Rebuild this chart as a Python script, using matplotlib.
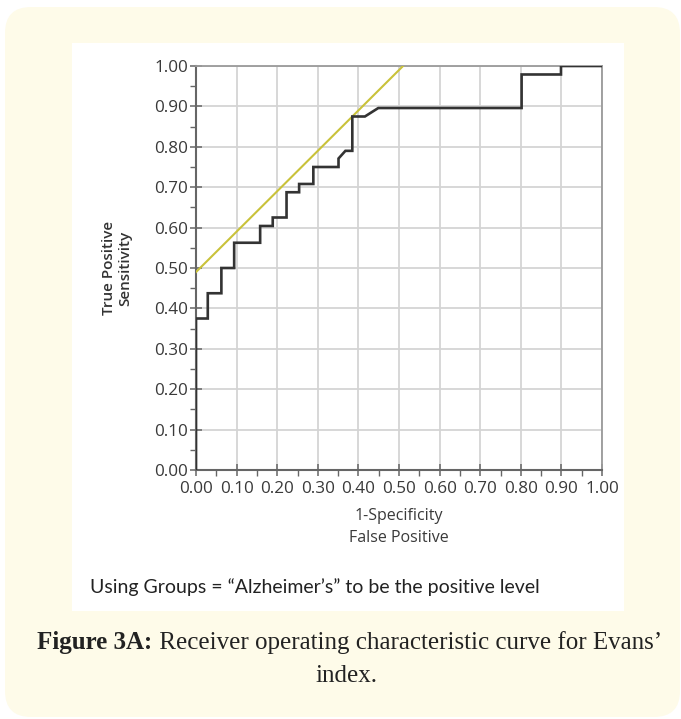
import matplotlib.pyplot as plt
from matplotlib.patches import FancyBboxPatch, Rectangle
from matplotlib.transforms import IdentityTransform
from matplotlib.ticker import MultipleLocator, FormatStrFormatter

plt.rcParams['font.family'] = 'Open Sans'

# ROC curve vertices (1-specificity, sensitivity)
fpr = [0.0, 0.0, 0.029, 0.029, 0.0625, 0.0625, 0.094, 0.094, 0.158, 0.158,
       0.189, 0.189, 0.223, 0.223, 0.254, 0.254, 0.289, 0.289, 0.351, 0.351,
       0.368, 0.385, 0.385, 0.416, 0.449, 0.802, 0.802, 0.899, 0.899, 1.0]
tpr = [0.0, 0.375, 0.375, 0.4375, 0.4375, 0.5, 0.5, 0.5625, 0.5625, 0.604,
       0.604, 0.625, 0.625, 0.6875, 0.6875, 0.708, 0.708, 0.75, 0.75, 0.771,
       0.79, 0.79, 0.875, 0.875, 0.896, 0.896, 0.979, 0.979, 1.0, 1.0]

# tangent line
tan_x = [0.0, 0.51]
tan_y = [0.49, 1.0]

tick_vals = [i / 10 for i in range(11)]

fig = plt.figure(figsize=(6.81, 7.19), dpi=100)
fig.patch.set_facecolor('white')

# cream card and white panel (pixel coords)
card = FancyBboxPatch((5, 2), 675, 710, boxstyle='round,pad=0,rounding_size=26',
                      transform=IdentityTransform(), facecolor='#fefbe9',
                      edgecolor='none', zorder=0)
fig.patches.append(card)
panel = Rectangle((72, 108), 552, 568, transform=IdentityTransform(),
                  facecolor='white', edgecolor='none', zorder=1)
fig.patches.append(panel)

ax = fig.add_axes([196 / 681, 1 - 470 / 719, 406 / 681, 404 / 719])
ax.set_facecolor('white')
ax.set_zorder(2)

ax.plot(tan_x, tan_y, color='#c9c23a', lw=1.5, zorder=3)
ax.plot(fpr, tpr, color='#333333', lw=1.9, zorder=4, solid_joinstyle='miter')

ax.set_xlim(0, 1)
ax.set_ylim(0, 1)
ax.set_xticks(tick_vals)
ax.set_yticks(tick_vals)
ax.xaxis.set_major_formatter(FormatStrFormatter('%.2f'))
ax.yaxis.set_major_formatter(FormatStrFormatter('%.2f'))
ax.xaxis.set_minor_locator(MultipleLocator(0.05))
ax.yaxis.set_minor_locator(MultipleLocator(0.05))
ax.grid(True, which='major', color='#d4d4d4', lw=1.3, zorder=0)
ax.set_axisbelow(True)

ax.tick_params(which='major', direction='inout', length=9, width=1.1,
               color='#666666', pad=1, labelsize=12.3, labelcolor='#3a3a3a')
ax.tick_params(axis='x', which='major', pad=3.5)
ax.tick_params(which='minor', direction='out', length=4, width=1.0,
               color='#666666')

for side in ['left', 'bottom']:
    ax.spines[side].set_color('#666666')
    ax.spines[side].set_linewidth(1.5)
for side in ['top', 'right']:
    ax.spines[side].set_color('#9a9a9a')
    ax.spines[side].set_linewidth(1.3)

ax.set_xlabel('1-Specificity\nFalse Positive', fontsize=11.5,
              color='#3a3a3a', linespacing=1.5)
ax.xaxis.set_label_coords(0.5, -0.093)
ax.set_ylabel('True Positive\nSensitivity', fontsize=11,
              color='#333333', linespacing=1.25, weight='semibold')
ax.yaxis.set_label_coords(-0.157, 0.5)

fig.text(90 / 681, 1 - 587 / 719, 'Using Groups = \u201cAlzheimer\u2019s\u201d to be the positive level',
         family='Lato', size=14, color='#222222', va='center', ha='left')

# caption with bold lead-in, centred
fig.canvas.draw()
r = fig.canvas.get_renderer()
cap_size = 18
t1 = fig.text(0, 1 - 643 / 719, 'Figure 3A:', family='Liberation Serif',
              weight='bold', size=cap_size, color='#222222', va='center')
t2 = fig.text(0, 1 - 643 / 719, ' Receiver operating characteristic curve for Evans\u2019',
              family='Liberation Serif', size=cap_size, color='#222222', va='center')
w1 = t1.get_window_extent(r).width
w2 = t2.get_window_extent(r).width
x0 = (681 * 0.5 + 9) - (w1 + w2) / 2
t1.set_x(x0 / 681)
t2.set_x((x0 + w1) / 681)
fig.text(346 / 681, 1 - 676 / 719, 'index.', family='Liberation Serif',
         size=cap_size, color='#222222', va='center', ha='center')

fig.savefig('out.png', dpi=100)
